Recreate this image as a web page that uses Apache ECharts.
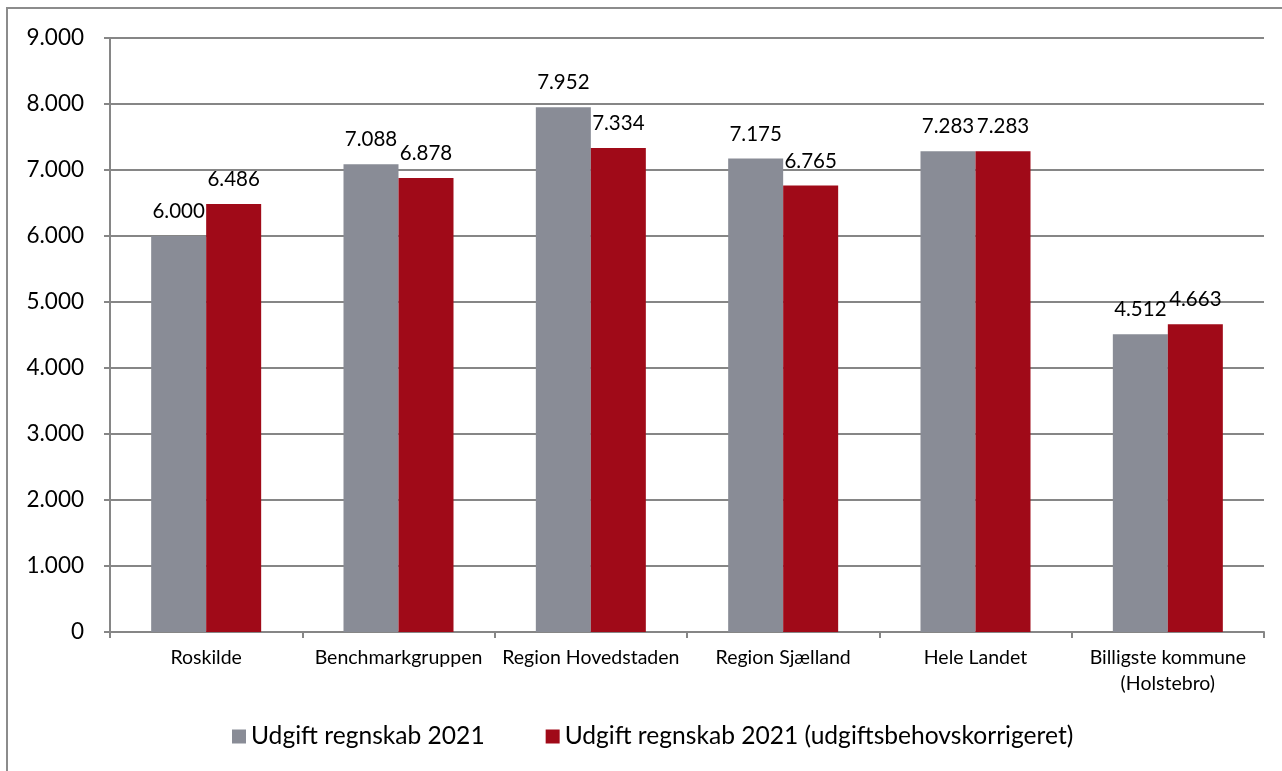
<!DOCTYPE html>
<html><head><meta charset="utf-8">
<script src="https://cdn.jsdelivr.net/npm/echarts@6/dist/echarts.min.js"></script>
<style>html,body{margin:0;padding:0;background:#fff}#c{width:1282px;height:771px}</style>
</head><body><div id="c"></div>
<script>
const categories = ['Roskilde','Benchmarkgruppen','Region Hovedstaden','Region Sjælland','Hele Landet','Billigste kommune\n(Holstebro)'];
const seriesNames = ['Udgift regnskab 2021','Udgift regnskab 2021 (udgiftsbehovskorrigeret)'];
const regnskab = [6000,7088,7952,7175,7283,4512];
const korrigeret = [6486,6878,7334,6765,7283,4663];
const yTicks = [0,1000,2000,3000,4000,5000,6000,7000,8000,9000];

const FONT = 'Lato, "Open Sans", sans-serif';
const fmt = v => { const s = Math.round(v).toString(); return s.length > 3 ? s.slice(0, s.length-3) + '.' + s.slice(-3) : s; };

const chart = echarts.init(document.getElementById('c'), null, {renderer:'canvas'});
chart.setOption({
  animation:false,
  backgroundColor:'#fff',
  textStyle:{fontFamily:FONT},
  graphic:[{type:'rect',shape:{x:7,y:8,width:1300,height:800},style:{fill:'none',stroke:'#8c8c8c',lineWidth:2},silent:true}],
  grid:{left:110,right:18,top:38,bottom:139,containLabel:false},
  legend:{
    bottom:17,left:227,itemWidth:14,itemHeight:14,itemGap:61,icon:'rect',
    textStyle:{fontFamily:FONT,fontSize:24.6,color:'#000'},
    data:seriesNames
  },
  xAxis:{
    type:'category',data:categories,
    axisLine:{lineStyle:{color:'#868686',width:2}},
    axisTick:{show:true,length:6,lineStyle:{color:'#868686',width:2}},
    axisLabel:{fontFamily:FONT,fontSize:19.5,color:'#000',margin:13,lineHeight:26,interval:0}
  },
  yAxis:{
    type:'value',min:0,max:9000,interval:1000,
    axisLine:{show:true,lineStyle:{color:'#868686',width:2}},
    axisTick:{show:true,length:6,lineStyle:{color:'#868686',width:2}},
    splitLine:{lineStyle:{color:'#868686',width:2}},
    axisLabel:{fontFamily:FONT,fontSize:22.5,color:'#000',margin:26,formatter:v=>yTicks.includes(v)?fmt(v):''}
  },
  series:[
    {name:seriesNames[0],type:'bar',data:regnskab,barWidth:55,barGap:'0%',barCategoryGap:'43%',
     itemStyle:{color:'#898c96'},
     label:{show:true,position:'top',distance:14,fontFamily:FONT,fontSize:20.5,color:'#000',formatter:p=>fmt(p.value)}},
    {name:seriesNames[1],type:'bar',data:korrigeret,barWidth:55,barGap:'0%',
     itemStyle:{color:'#a00a18'},
     label:{show:true,position:'top',distance:14,fontFamily:FONT,fontSize:20.5,color:'#000',formatter:p=>fmt(p.value)}}
  ]
});
</script></body></html>
